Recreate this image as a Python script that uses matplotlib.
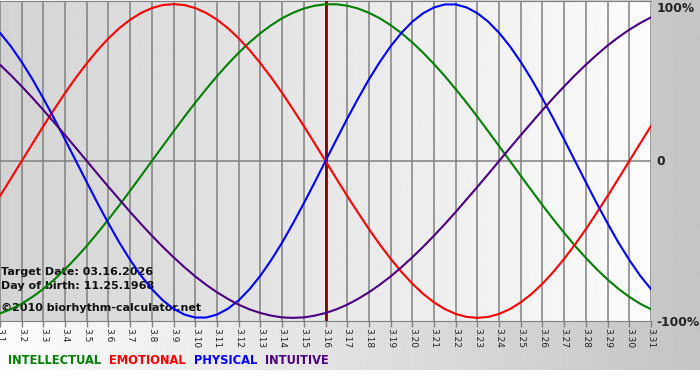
import numpy as np
import matplotlib
matplotlib.use("Agg")
from matplotlib import pyplot as plt

# days of March 2026 shown on the chart
days = list(range(1, 32))
day_labels = ["3.%d" % d for d in days]

# values every half day (-1 .. 1), from 3.1 to 3.31
physical = [0.817, 0.731, 0.631, 0.520, 0.398, 0.270, 0.136, 0.0, -0.136, -0.270,
            -0.398, -0.520, -0.631, -0.731, -0.817, -0.888, -0.942, -0.979, -0.998, -0.998,
            -0.979, -0.942, -0.888, -0.817, -0.731, -0.631, -0.520, -0.398, -0.270, -0.136,
            0.0, 0.136, 0.270, 0.398, 0.520, 0.631, 0.731, 0.817, 0.888, 0.942,
            0.979, 0.998, 0.998, 0.979, 0.942, 0.888, 0.817, 0.731, 0.631, 0.520,
            0.398, 0.270, 0.136, 0.0, -0.136, -0.270, -0.398, -0.520, -0.631, -0.731, -0.817]
emotional = [-0.223, -0.112, 0.0, 0.112, 0.223, 0.330, 0.434, 0.532, 0.623, 0.707,
             0.782, 0.847, 0.901, 0.944, 0.975, 0.994, 1.0, 0.994, 0.975, 0.944,
             0.901, 0.847, 0.782, 0.707, 0.623, 0.532, 0.434, 0.330, 0.223, 0.112,
             0.0, -0.112, -0.223, -0.330, -0.434, -0.532, -0.623, -0.707, -0.782, -0.847,
             -0.901, -0.944, -0.975, -0.994, -1.0, -0.994, -0.975, -0.944, -0.901, -0.847,
             -0.782, -0.707, -0.623, -0.532, -0.434, -0.330, -0.223, -0.112, 0.0, 0.112, 0.223]
intellectual = [-0.972, -0.945, -0.910, -0.866, -0.815, -0.756, -0.690, -0.618, -0.541, -0.458,
                -0.372, -0.282, -0.189, -0.095, 0.0, 0.095, 0.189, 0.282, 0.372, 0.458,
                0.541, 0.618, 0.690, 0.756, 0.815, 0.866, 0.910, 0.945, 0.972, 0.990,
                0.999, 0.999, 0.990, 0.972, 0.945, 0.910, 0.866, 0.815, 0.756, 0.690,
                0.618, 0.541, 0.458, 0.372, 0.282, 0.189, 0.095, 0.0, -0.095, -0.189,
                -0.282, -0.372, -0.458, -0.541, -0.618, -0.690, -0.756, -0.815, -0.866, -0.910, -0.945]
intuitive = [0.614, 0.547, 0.476, 0.402, 0.325, 0.245, 0.165, 0.083, 0.0, -0.083,
             -0.165, -0.245, -0.325, -0.402, -0.476, -0.547, -0.614, -0.677, -0.736, -0.789,
             -0.837, -0.879, -0.916, -0.946, -0.969, -0.986, -0.997, -1.0, -0.997, -0.986,
             -0.969, -0.946, -0.916, -0.879, -0.837, -0.789, -0.736, -0.677, -0.614, -0.547,
             -0.476, -0.402, -0.325, -0.245, -0.165, -0.083, 0.0, 0.083, 0.165, 0.245,
             0.325, 0.402, 0.476, 0.547, 0.614, 0.677, 0.736, 0.789, 0.837, 0.879, 0.916]

target_day = 16
series = [("INTELLECTUAL", intellectual, "#008000"),
          ("EMOTIONAL", emotional, "#ff0000"),
          ("PHYSICAL", physical, "#0000ff"),
          ("INTUITIVE", intuitive, "#4b0082")]

xs = np.arange(1, 31.25, 0.5)

W, H = 700, 380
fig = plt.figure(figsize=(W / 100, H / 100), dpi=100)
fig.patch.set_facecolor("white")

# grey gradient behind everything (white strip at the very bottom)
bg = fig.add_axes([0, 10 / H, 1, 370 / H])
bg.imshow(np.linspace(0.99, 0.77, 256).reshape(1, -1), cmap="gray", vmin=0, vmax=1,
          aspect="auto", extent=[0, 1, 0, 1])
bg.axis("off")

# plot area
ax = fig.add_axes([0, (H - 321) / H, 651 / W, 320 / H])
ax.imshow(np.linspace(0.83, 0.985, 256).reshape(1, -1), cmap="gray", vmin=0, vmax=1,
          aspect="auto", extent=[1, 31, -1.02, 1.02], zorder=0)
ax.set_xlim(1, 31)
ax.set_ylim(-1.02, 1.02)

for d in days:
    ax.axvline(d, color="#808080", lw=1.1, zorder=1)
ax.axhline(0, color="#808080", lw=1.1, zorder=1)
ax.axvline(target_day, color="#800000", lw=2, zorder=3)

for name, vals, col in series:
    ax.plot(xs, vals, color=col, lw=1.5, zorder=4, solid_joinstyle="round")

for s in ax.spines.values():
    s.set_visible(False)
for side in ["top", "bottom"]:
    ax.spines[side].set_visible(True)
    ax.spines[side].set_color("#808080")

ax.set_xticks(days)
ax.set_xticklabels(day_labels, rotation=-90, fontsize=6.5, color="#222222")
ax.tick_params(axis="x", length=4, width=1, color="#808080", pad=1)
ax.set_yticks([])

# right-side percentage labels
for val, lab in [(0.975, "100%"), (-0.005, "0"), (-1.03, "-100%")]:
    ax.text(31.25, val, lab, fontsize=8.8, fontweight="bold", color="#222222",
            va="center", ha="left", clip_on=False)

ax.text(1.05, -0.71, "Target Date: 03.16.2026", fontsize=8, fontweight="bold",
        color="#111111", va="center")
ax.text(1.05, -0.80, "Day of birth: 11.25.1968", fontsize=8, fontweight="bold",
        color="#111111", va="center")
ax.text(1.05, -0.935, "\u00a92010 biorhythm-calculator.net", fontsize=8, fontweight="bold",
        color="#111111", va="center")

# coloured legend words along the bottom
x = 8
for name, vals, col in series:
    t = fig.text(x / W, 1 - 361 / H, name, fontsize=8.3, fontweight="bold", color=col,
                 va="center", ha="left")
    fig.canvas.draw()
    bb = t.get_window_extent()
    x = bb.x1 + 8

plt.savefig("out.png", dpi=100)
